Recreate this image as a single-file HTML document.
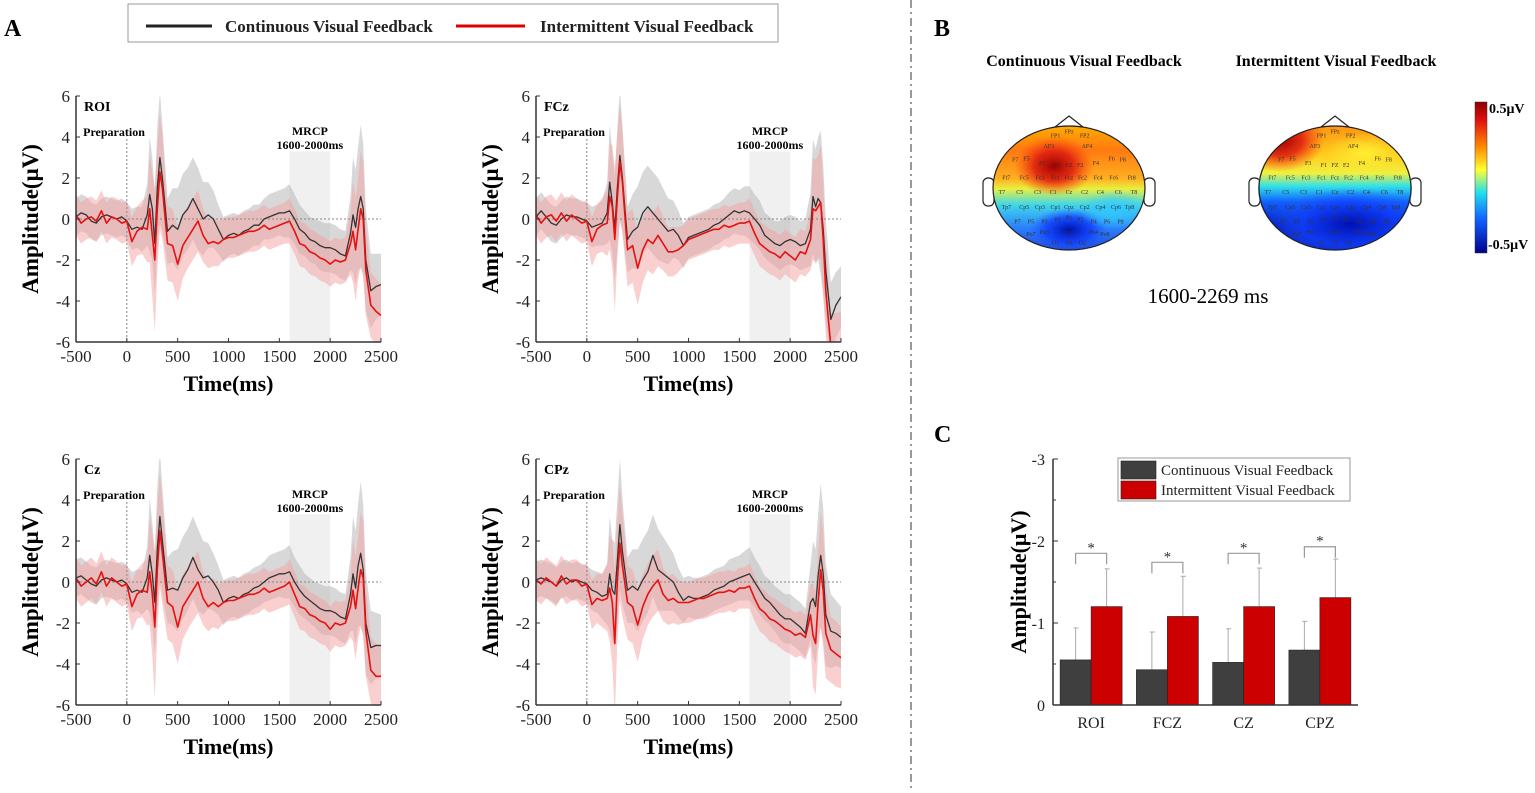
<!DOCTYPE html>
<html><head><meta charset="utf-8">
<style>
html,body{margin:0;padding:0;background:#fff;}
body{width:1535px;height:788px;overflow:hidden;font-family:"Liberation Serif",serif;}
svg text{font-family:"Liberation Serif",serif;}
</style></head>
<body>
<svg id="fig" width="1535" height="788" viewBox="0 0 1535 788" xmlns="http://www.w3.org/2000/svg">
<defs>
<linearGradient id="cbar" x1="0" y1="0" x2="0" y2="1">
<stop offset="0" stop-color="#8b0000"/><stop offset="0.12" stop-color="#e01010"/><stop offset="0.3" stop-color="#ff8c00"/><stop offset="0.45" stop-color="#ffff30"/><stop offset="0.6" stop-color="#20e0f0"/><stop offset="0.78" stop-color="#1060ff"/><stop offset="1" stop-color="#00008b"/>
</linearGradient>
<linearGradient id="topoA" x1="0" y1="0" x2="0" y2="1">
<stop offset="0" stop-color="#ffb000"/><stop offset="0.2" stop-color="#ff7a10"/><stop offset="0.42" stop-color="#ffb020"/><stop offset="0.5" stop-color="#e8f040"/><stop offset="0.62" stop-color="#40d8e8"/><stop offset="0.8" stop-color="#2a80ff"/><stop offset="1" stop-color="#2040d0"/>
</linearGradient>
<radialGradient id="blobRed" cx="0.5" cy="0.5" r="0.5"><stop offset="0" stop-color="#a00000"/><stop offset="0.5" stop-color="#e02010" stop-opacity="0.9"/><stop offset="1" stop-color="#ff4010" stop-opacity="0"/></radialGradient>
<radialGradient id="blobBlue" cx="0.5" cy="0.5" r="0.5"><stop offset="0" stop-color="#0010b0"/><stop offset="0.6" stop-color="#1040ff" stop-opacity="0.8"/><stop offset="1" stop-color="#2060ff" stop-opacity="0"/></radialGradient>
<radialGradient id="blobCyan" cx="0.5" cy="0.5" r="0.5"><stop offset="0" stop-color="#30c8ff"/><stop offset="1" stop-color="#30c8ff" stop-opacity="0"/></radialGradient>
<radialGradient id="blobYellow" cx="0.5" cy="0.5" r="0.5"><stop offset="0" stop-color="#ffee30"/><stop offset="1" stop-color="#ffee30" stop-opacity="0"/></radialGradient>
<linearGradient id="topoB" x1="0" y1="0" x2="0" y2="1">
<stop offset="0" stop-color="#ff9010"/><stop offset="0.25" stop-color="#ffd020"/><stop offset="0.38" stop-color="#f0f040"/><stop offset="0.48" stop-color="#30e0e8"/><stop offset="0.6" stop-color="#1060ff"/><stop offset="0.78" stop-color="#0820c0"/><stop offset="1" stop-color="#0818b0"/>
</linearGradient>
<clipPath id="headA"><ellipse cx="1069" cy="188" rx="76" ry="62"/></clipPath>
<clipPath id="headB"><ellipse cx="1335" cy="188" rx="77" ry="62"/></clipPath>
</defs>
<g id="root"></g>
</svg>
<script>
// ---------------- ERP data ----------------
const times = [-500,-450,-400,-350,-300,-250,-200,-150,-100,-50,0,50,100,150,200,225,250,275,300,325,350,400,450,500,550,600,650,700,750,800,850,900,950,1000,1050,1100,1150,1200,1250,1300,1350,1400,1450,1500,1550,1600,1650,1700,1750,1800,1850,1900,1950,2000,2050,2100,2150,2200,2225,2250,2275,2300,2325,2350,2400,2450,2500];
const roiCont = [0.1,0.3,0.2,-0.1,-0.2,0.1,0.2,0.1,0,0.1,-0.1,-0.5,-0.4,-0.5,0.2,1.2,0.5,-1.2,1.5,3.0,2.0,-0.6,-0.3,-0.5,0.2,0.5,1.0,0.5,0,0.2,0,-0.5,-1.0,-0.8,-0.7,-0.8,-0.6,-0.5,-0.3,-0.3,0,0.1,0.2,0.3,0.3,0.4,0,-0.5,-0.7,-1.0,-1.1,-1.3,-1.4,-1.4,-1.5,-1.7,-1.8,-0.7,0.2,-0.4,0.5,1.1,0.5,-2.0,-3.5,-3.3,-3.2];
const roiInt = [0.2,-0.2,0,0.1,-0.1,0.4,-0.2,0.1,0,-0.2,-0.1,-1.1,-0.6,-0.4,-0.5,0.5,-0.8,-2.0,0.5,2.3,1.5,-1.2,-1.3,-2.2,-1.3,-0.9,-0.5,-0.1,-0.8,-1.2,-1.1,-1.2,-1.0,-0.9,-0.9,-0.8,-0.7,-0.6,-0.6,-0.5,-0.3,-0.5,-0.4,-0.3,-0.2,-0.1,-0.6,-1.2,-1.3,-1.6,-1.7,-1.9,-2.0,-2.2,-2.0,-2.1,-2.0,-1.2,-0.6,-1.5,-0.5,0.5,0,-2.5,-4.2,-4.5,-4.7];
const fczCont = [0.1,0.4,0.1,-0.2,-0.3,0,0.2,0.1,0.1,0,-0.1,-0.4,-0.3,-0.2,0.3,1.8,0.8,-0.5,1.5,3.1,2.0,-1.0,-0.6,-0.4,0.3,0.6,0.3,0,-0.3,-0.6,-0.5,-0.8,-1.3,-0.9,-0.8,-0.7,-0.6,-0.5,-0.3,-0.2,0,0.2,0.4,0.3,0.4,0.3,0,-0.3,-0.8,-1.0,-1.2,-1.3,-1.1,-1.0,-1.1,-1.3,-1.2,-0.5,1.1,0.6,1.0,0.8,-0.5,-2.5,-4.9,-4.2,-3.8];
const fczInt = [0.2,-0.2,0.1,0.2,-0.1,0.3,-0.1,0.2,0,-0.2,-0.1,-1.1,-0.5,-0.3,-0.2,1.1,0.6,-1.0,1.0,2.8,1.8,-1.5,-1.3,-2.4,-1.5,-1.0,-1.2,-0.8,-1.2,-1.6,-1.6,-1.5,-1.3,-1.0,-0.9,-0.8,-0.7,-0.6,-0.5,-0.5,-0.3,-0.4,-0.3,-0.2,-0.2,-0.1,-0.7,-1.2,-1.4,-1.6,-1.7,-1.9,-1.6,-1.8,-2.0,-1.6,-1.7,-1.0,0.5,0.4,0.6,0.8,-1.0,-3.5,-6.2,-6.2,-6.0];
const czCont = [0.2,0.3,0.1,-0.1,-0.2,0.1,0.2,0.1,0,0.1,-0.1,-0.5,-0.4,-0.5,0.2,1.3,0.4,-1.0,1.6,3.2,2.0,-0.4,-0.3,-0.4,0.2,0.6,1.2,0.6,0.2,0.3,0,-0.4,-1.0,-0.8,-0.7,-0.8,-0.6,-0.5,-0.3,-0.2,0,0.2,0.3,0.4,0.4,0.5,0,-0.4,-0.7,-0.9,-1.1,-1.3,-1.4,-1.4,-1.5,-1.7,-1.8,-0.6,0.4,-0.3,0.8,1.4,0.6,-2.0,-3.2,-3.1,-3.1];
const czInt = [0.2,-0.2,0,0.2,-0.1,0.5,-0.2,0.2,0,-0.2,-0.1,-1.2,-0.6,-0.4,-0.5,0.5,-0.6,-2.2,0.6,2.5,1.4,-1.0,-1.2,-2.2,-1.2,-0.8,-0.4,0,-0.8,-1.2,-1.0,-1.2,-1.0,-0.9,-0.9,-0.8,-0.7,-0.6,-0.6,-0.5,-0.3,-0.5,-0.4,-0.3,-0.2,0,-0.6,-1.2,-1.3,-1.6,-1.7,-1.9,-2.0,-2.3,-2.0,-2.1,-2.0,-1.2,-0.4,-1.3,-0.3,0.6,0.2,-2.4,-4.3,-4.6,-4.6];
const cpzCont = [0.1,0.2,0.1,0,-0.2,0.1,0.2,0,0.1,0,-0.1,-0.4,-0.5,-0.7,-0.6,0.4,-0.4,-0.6,1.0,2.8,1.5,-0.4,-0.2,-0.4,0.1,0.5,1.3,0.6,0.4,0.2,0,-0.5,-0.9,-0.7,-0.8,-0.8,-0.7,-0.6,-0.4,-0.3,-0.2,0,0.1,0.2,0.3,0.4,0,-0.4,-0.8,-1.0,-1.3,-1.6,-1.8,-1.8,-2.0,-2.2,-2.5,-1.0,-0.8,-1.2,0.3,1.3,0.4,-1.6,-2.4,-2.5,-2.7];
const cpzInt = [0.1,-0.1,0.2,0,-0.2,0.3,-0.1,0.1,0.1,-0.2,-0.1,-1.1,-0.8,-0.9,-0.8,-0.3,-1.0,-3.0,0,1.9,0.8,-1.0,-1.2,-2.1,-1.2,-0.6,-0.2,0.1,-0.6,-0.9,-0.8,-1.0,-1.0,-1.0,-0.9,-0.8,-0.8,-0.7,-0.6,-0.5,-0.5,-0.4,-0.5,-0.3,-0.3,-0.2,-0.8,-1.3,-1.5,-1.8,-1.9,-2.1,-2.3,-2.4,-2.6,-2.5,-2.7,-1.6,-2.6,-3.0,-1.0,0.6,-0.4,-2.5,-3.3,-3.5,-3.7];
const sdCont = [0.9,0.9,0.9,0.9,0.9,0.9,0.9,0.9,0.9,0.9,0.9,1.0,1.0,1.1,1.5,2.8,2.5,2.5,3.0,3.2,2.6,1.6,1.8,2.0,2.0,2.0,2.0,2.0,1.8,1.6,1.4,1.2,1.1,1.0,1.0,1.0,1.0,1.0,1.0,1.0,1.0,1.1,1.1,1.1,1.2,1.3,1.2,1.2,1.1,1.1,1.1,1.2,1.2,1.2,1.2,1.2,1.2,1.8,2.8,2.8,3.0,3.5,3.2,2.5,1.8,1.6,1.5];
const sdInt = [1.0,1.0,1.0,1.0,1.0,1.0,1.0,1.0,1.0,1.0,1.0,1.2,1.2,1.3,1.6,2.6,3.0,3.5,3.0,2.8,2.5,1.8,1.8,1.8,1.6,1.5,1.5,1.5,1.3,1.2,1.2,1.1,1.0,1.0,1.0,1.0,1.0,1.0,1.0,1.0,1.0,1.0,1.0,1.0,1.0,1.1,1.1,1.1,1.1,1.1,1.1,1.1,1.1,1.1,1.1,1.1,1.1,1.5,2.5,2.5,2.5,2.8,2.8,2.2,1.6,1.6,1.5];
const xTicks = [-500,0,500,1000,1500,2000,2500];
const yTicks = [6,4,2,0,-2,-4,-6];
const panelLabels = ["ROI","FCz","Cz","CPz"];

// ---------------- bar data ----------------
const barCats = ["ROI","FCZ","CZ","CPZ"];
const barCont = [0.55,0.43,0.52,0.67];
const barInt = [1.20,1.08,1.20,1.31];
const errCont = [0.39,0.46,0.41,0.35];
const errInt = [0.46,0.49,0.47,0.47];
const sigHeights = [1.85,1.74,1.85,1.93];
const barTicks = [0,-1,-2,-3];

const NS="http://www.w3.org/2000/svg";
const root=document.getElementById('root');
function mk(tag,attrs,parent){const e=document.createElementNS(NS,tag);for(const k in attrs)e.setAttribute(k,attrs[k]);(parent||root).appendChild(e);return e;}
function txt(s,attrs,parent){const e=mk('text',attrs,parent);e.textContent=s;return e;}

// ---------- header ----------
const hdr=mk('g',{});


mk('rect',{x:128,y:4,width:650,height:38,fill:'#fff',stroke:'#999','stroke-width':1},hdr);
mk('line',{x1:146,y1:26,x2:212,y2:26,stroke:'#222','stroke-width':3},hdr);
txt('Continuous Visual Feedback',{x:225,y:32,'font-size':17,'font-weight':'bold',fill:'#222'},hdr);
mk('line',{x1:456,y1:26,x2:525,y2:26,stroke:'#d00','stroke-width':3},hdr);
txt('Intermittent Visual Feedback',{x:540,y:32,'font-size':17,'font-weight':'bold',fill:'#222'},hdr);
const la=txt('A',{x:4,y:36,'font-size':24,'font-weight':'bold'});
const lb=txt('B',{x:934,y:36,'font-size':24,'font-weight':'bold'});
const lc=txt('C',{x:934,y:442,'font-size':24,'font-weight':'bold'});
const dv=mk('line',{x1:911,y1:0,x2:911,y2:788,stroke:'#999','stroke-width':2,'stroke-dasharray':'8 4 2 4'});


// ---------- ERP panels ----------
const panels=[
 {x0:76,x1:381,y0:96,y1:342,c:roiCont,r:roiInt},
 {x0:536,x1:841,y0:96,y1:342,c:fczCont,r:fczInt},
 {x0:76,x1:381,y0:459,y1:705,c:czCont,r:czInt},
 {x0:536,x1:841,y0:459,y1:705,c:cpzCont,r:cpzInt}
];
panels.forEach((p,pi)=>{
 const g=mk('g',{});
 
 
 const X=t=>p.x0+(t+500)/3000*(p.x1-p.x0);
 const Y=v=>p.y0+(6-v)/12*(p.y1-p.y0);
 const cid='clip'+pi;
 const cp=mk('clipPath',{id:cid},g);mk('rect',{x:p.x0,y:p.y0,width:p.x1-p.x0,height:p.y1-p.y0},cp);
 const pg=mk('g',{'clip-path':'url(#'+cid+')'},g);
 const win=mk('rect',{x:X(1600),y:Y(3.3),width:X(2000)-X(1600),height:Y(-6)-Y(3.3),fill:'#f0f0f0'},pg);
 
 
 function band(m,sd,fill,op,name){
  let d='';
  times.forEach((t,i)=>{d+=(i?'L':'M')+X(t).toFixed(1)+','+Y(m[i]+sd[i]).toFixed(1);});
  for(let i=times.length-1;i>=0;i--)d+='L'+X(times[i]).toFixed(1)+','+Y(m[i]-sd[i]).toFixed(1);
  const e=mk('path',{d:d+'Z',fill:fill,'fill-opacity':op},pg);
  
  
 }
 band(p.c,sdCont,'#b8b8b8',0.55,'continuous-sd-band');
 band(p.r,sdInt,'#f4a0a0',0.5,'intermittent-sd-band');
 mk('line',{x1:p.x0,y1:Y(0),x2:p.x1,y2:Y(0),stroke:'#888','stroke-width':1,'stroke-dasharray':'2 2'},pg);
 mk('line',{x1:X(0),y1:Y(3.9),x2:X(0),y2:p.y1,stroke:'#888','stroke-width':1,'stroke-dasharray':'2 2'},pg);
 function line(m,col,w,name){
  const d=times.map((t,i)=>(i?'L':'M')+X(t).toFixed(1)+','+Y(m[i]).toFixed(1)).join('');
  const e=mk('path',{d:d,fill:'none',stroke:col,'stroke-width':w,'stroke-linejoin':'round'},pg);
  
  
 }
 line(p.c,'#333',1.3,'continuous-line');
 line(p.r,'#e81010',1.6,'intermittent-line');
 mk('line',{x1:p.x0,y1:p.y0,x2:p.x0,y2:p.y1,stroke:'#333','stroke-width':1.5},g);
 mk('line',{x1:p.x0,y1:p.y1,x2:p.x1,y2:p.y1,stroke:'#333','stroke-width':1.5},g);
 yTicks.forEach(v=>{
  mk('line',{x1:p.x0,y1:Y(v),x2:p.x0+4,y2:Y(v),stroke:'#333'},g);
  const t=txt(String(v),{x:p.x0-6,y:Y(v)+6,'font-size':17,'text-anchor':'end',fill:'#222'},g);
  
 });
 xTicks.forEach(v=>{
  mk('line',{x1:X(v),y1:p.y1,x2:X(v),y2:p.y1-4,stroke:'#333'},g);
  const t=txt(String(v),{x:X(v),y:p.y1+20,'font-size':17,'text-anchor':'middle',fill:'#222'},g);
  
 });
 const xt=txt('Time(ms)',{x:(p.x0+p.x1)/2,y:p.y1+49,'font-size':22,'font-weight':'bold','text-anchor':'middle'},g);
 
 const yx=p.x0-38,yy=(p.y0+p.y1)/2;
 const yt=txt('Amplitude(μV)',{x:yx,y:yy,'font-size':23,'font-weight':'bold','text-anchor':'middle',transform:`rotate(-90 ${yx} ${yy})`},g);
 
 const nm=txt(panelLabels[pi],{x:p.x0+8,y:p.y0+15,'font-size':14,'font-weight':'bold'},g);
 
 const pr=txt('Preparation',{x:X(-430),y:Y(4.05),'font-size':12,'font-weight':'bold'},g);
 
 const m1=txt('MRCP',{x:X(1800),y:Y(4.1),'font-size':12,'font-weight':'bold','text-anchor':'middle'},g);
 
 const m2=txt('1600-2000ms',{x:X(1800),y:Y(3.42),'font-size':12,'font-weight':'bold','text-anchor':'middle'},g);
 
});

// ---------- topomaps ----------
const electrodes=[["FP1",-12,-50],["FPz",0,-54],["FP2",14,-50],["AF3",-18,-40],["AF4",16,-40],["F7",-48,-27],["F5",-38,-28],["F3",-24,-24],["F1",-10,-22],["FZ",0,-22],["F2",10,-22],["F4",24,-24],["F6",38,-28],["F8",48,-27],["Ft7",-56,-10],["Fc5",-40,-10],["Fc3",-26,-10],["Fc1",-12,-10],["Fcz",0,-10],["Fc2",12,-10],["Fc4",26,-10],["Fc6",40,-10],["Ft8",56,-10],["T7",-60,4],["C5",-44,4],["C3",-28,4],["C1",-14,4],["Cz",0,4],["C2",14,4],["C4",28,4],["C6",44,4],["T8",58,4],["Tp7",-56,18],["Cp5",-40,18],["Cp3",-26,18],["Cp1",-12,18],["Cpz",0,18],["Cp2",14,18],["Cp4",28,18],["Cp6",42,18],["Tp8",54,18],["P7",-46,32],["P5",-34,32],["P3",-22,32],["P1",-10,30],["Pz",0,28],["P2",10,30],["P4",22,32],["P6",34,32],["P8",46,32],["Po7",-34,44],["Po3",-22,42],["Poz",0,42],["Po4",22,42],["Po8",32,44],["O1",-12,52],["Oz",0,52],["O2",12,52]];
function topo(cx,tx,title,fillId,clip,blobs,name){
 const g=mk('g',{});
 
 
 txt(title,{x:tx,y:66,'font-size':16,'font-weight':'bold','text-anchor':'middle'},g);
 mk('path',{d:`M${cx-14},127 L${cx},116 L${cx+14},127`,fill:'#fff',stroke:'#222','stroke-width':1.2},g);
 mk('rect',{x:cx-86,y:178,width:11,height:28,rx:5,fill:'#fff',stroke:'#222','stroke-width':1.2},g);
 mk('rect',{x:cx+75,y:178,width:11,height:28,rx:5,fill:'#fff',stroke:'#222','stroke-width':1.2},g);
 const hg=mk('g',{'clip-path':`url(#${clip})`},g);
 mk('rect',{x:cx-80,y:124,width:160,height:130,fill:`url(#${fillId})`},hg);
 blobs.forEach(b=>mk('ellipse',{cx:cx+b[0],cy:188+b[1],rx:b[2],ry:b[3],fill:`url(#${b[4]})`},hg));
 electrodes.forEach(e=>txt(e[0],{x:cx+e[1]*1.12,y:188+e[2]*1.05+2,'font-size':6,'text-anchor':'middle',fill:'#333','font-family':'Liberation Sans, sans-serif'},hg));
 mk('ellipse',{cx:cx,cy:188,rx:76,ry:62,fill:'none',stroke:'#222','stroke-width':1.2},g);
}
topo(1069,1084,'Continuous Visual Feedback','topoA','headA',[[-15,-22,40,30,'blobRed'],[0,42,40,22,'blobBlue'],[45,22,34,20,'blobCyan']],'topomap-continuous');
topo(1335,1336,'Intermittent Visual Feedback','topoB','headB',[[-55,-48,45,32,'blobRed'],[30,-35,40,20,'blobYellow'],[15,36,80,36,'blobBlue']],'topomap-intermittent');
const cb=mk('rect',{x:1475,y:102,width:12,height:151,fill:'url(#cbar)',stroke:'#333','stroke-width':0.5});

txt('0.5μV',{x:1489,y:113,'font-size':14,'font-weight':'bold'});
txt('-0.5μV',{x:1488,y:249,'font-size':14,'font-weight':'bold'});
const tw=txt('1600-2269 ms',{x:1208,y:303,'font-size':21,'text-anchor':'middle'});


// ---------- bar chart ----------
(function(){
 const g=mk('g',{});
 
 
 const bx0=1053,bx1=1358,by0=705,upp=82;
 const Y=v=>by0-v*upp;
 const grpW=(bx1-bx0)/4, barW=31;
 barTicks.forEach(t=>{
  mk('line',{x1:bx0,y1:Y(-t),x2:bx0+5,y2:Y(-t),stroke:'#333'},g);
  txt(String(t),{x:bx0-8,y:Y(-t)+6,'font-size':16,'text-anchor':'end',fill:'#222'},g);
 });
 [0.5,1.5,2.5].forEach(t=>mk('line',{x1:bx0,y1:Y(t),x2:bx0+3,y2:Y(t),stroke:'#333'},g));
 barCats.forEach((c,i)=>{
  const cx=bx0+grpW*i+grpW/2;
  const xc=cx-barW, xr=cx;
  mk('line',{x1:xc+barW/2,y1:Y(barCont[i]),x2:xc+barW/2,y2:Y(barCont[i]+errCont[i]),stroke:'#aaa'},g);
  mk('line',{x1:xc+barW/2-2,y1:Y(barCont[i]+errCont[i]),x2:xc+barW/2+3,y2:Y(barCont[i]+errCont[i]),stroke:'#aaa'},g);
  mk('line',{x1:xr+barW/2,y1:Y(barInt[i]),x2:xr+barW/2,y2:Y(barInt[i]+errInt[i]),stroke:'#aaa'},g);
  mk('line',{x1:xr+barW/2-2,y1:Y(barInt[i]+errInt[i]),x2:xr+barW/2+3,y2:Y(barInt[i]+errInt[i]),stroke:'#aaa'},g);
  const b1=mk('rect',{x:xc,y:Y(barCont[i]),width:barW,height:barCont[i]*upp,fill:'#3f3f3f',stroke:'#222','stroke-width':0.6},g);
  
  
  const b2=mk('rect',{x:xr,y:Y(barInt[i]),width:barW,height:barInt[i]*upp,fill:'#cc0000',stroke:'#222','stroke-width':0.6},g);
  
  
  const sy=Y(sigHeights[i]);
  mk('path',{d:`M${xc+barW/2},${sy+11} V${sy} H${xr+barW/2} V${sy+11}`,fill:'none',stroke:'#999','stroke-width':1.2},g);
  const st=txt('*',{x:cx,y:sy-1,'font-size':15,'text-anchor':'middle',fill:'#333'},g);
  
  const cl=txt(c,{x:cx,y:by0+23,'font-size':16,'text-anchor':'middle',fill:'#222'},g);
  
 });
 mk('line',{x1:bx0,y1:Y(3),x2:bx0,y2:by0,stroke:'#333','stroke-width':1.5},g);
 mk('line',{x1:bx0,y1:by0,x2:bx1,y2:by0,stroke:'#333','stroke-width':1.5},g);
 const yt=txt('Amplitude(μV)',{x:1026,y:582,'font-size':22,'font-weight':'bold','text-anchor':'middle',transform:'rotate(-90 1026 582)'},g);
 
 const lg=mk('g',{},g);
 
 
 mk('rect',{x:1118,y:458,width:232,height:43,fill:'#fff',stroke:'#999'},lg);
 mk('rect',{x:1121,y:461,width:35,height:18,fill:'#3f3f3f',stroke:'#222','stroke-width':0.6},lg);
 mk('rect',{x:1121,y:481,width:35,height:18,fill:'#cc0000',stroke:'#222','stroke-width':0.6},lg);
 txt('Continuous Visual Feedback',{x:1161,y:475,'font-size':15,fill:'#222'},lg);
 txt('Intermittent Visual Feedback',{x:1161,y:495,'font-size':15,fill:'#222'},lg);
})();
</script>
</body></html>
